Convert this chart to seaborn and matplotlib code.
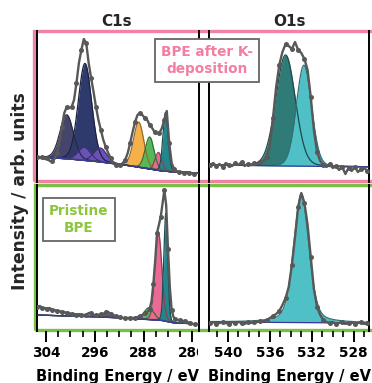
import numpy as np
import pandas as pd
import matplotlib
matplotlib.use("Agg")
import matplotlib.pyplot as plt
import seaborn as sns
from matplotlib.patches import Rectangle
from matplotlib.transforms import Bbox, TransformedBbox
from matplotlib.ticker import MultipleLocator
import matplotlib.colors as mcolors

sns.set_theme(style="white")
plt.rcParams["font.family"] = ["DejaVu Sans"]
plt.rcParams["font.weight"] = "bold"

# ---------------- data ----------------
# C1s, BPE after K-deposition (measured)
c1s_k_ev = [305.4, 305.0, 304.6, 304.2, 303.8, 303.4, 303.0, 302.6, 302.2, 301.8, 301.4, 301.0,
            300.6, 300.2, 299.8, 299.4, 299.0, 298.6, 298.2, 297.8, 297.4, 297.0, 296.6, 296.2,
            295.8, 295.4, 295.0, 294.6, 294.2, 293.8, 293.4, 293.0, 292.6, 292.2, 291.8, 291.4,
            291.0, 290.6, 290.2, 289.8, 289.4, 289.0, 288.6, 288.2, 287.8, 287.4, 287.0, 286.6,
            286.2, 285.8, 285.4, 285.0, 284.6, 284.2, 283.8, 283.4, 283.0, 282.6, 282.2, 281.8,
            281.4, 281.0, 280.6, 280.2, 279.8, 279.4]
c1s_k_int = [23, 22, 23, 21, 22, 19, 19, 21, 27, 37, 53, 67,
             73, 72, 73, 80, 97, 117, 130, 141, 137, 117, 102, 88,
             73, 60, 50, 40, 33, 27, 22, 17, 15, 14, 15, 17,
             20, 27, 37, 48, 58, 65, 67, 65, 62, 60, 55, 52,
             48, 47, 47, 52, 60, 69, 37, 17, 11, 9, 8, 8,
             7, 8, 7, 7, 6, 7]
# fit components (center eV, height, FWHM)
c1s_k_center = [300.6, 297.6, 297.7, 295.1, 288.8, 287.0, 285.55, 284.4]
c1s_k_height = [44, 97, 13, 14, 45, 32, 18, 59]
c1s_k_fwhm = [2.6, 2.6, 2.5, 2.5, 2.0, 1.7, 1.3, 1.0]
c1s_k_bg_ev = [305.6, 300.0, 295.0, 290.0, 285.0, 283.0, 279.0]
c1s_k_bg_int = [23, 21, 18, 14, 9, 8, 7]

# O1s, BPE after K-deposition
o1s_k_ev = [541.7, 541.4, 541.1, 540.8, 540.5, 540.2, 539.9, 539.6, 539.3, 539.0, 538.7, 538.4,
            538.1, 537.8, 537.5, 537.2, 536.9, 536.6, 536.3, 536.0, 535.7, 535.4, 535.1, 534.8,
            534.5, 534.2, 533.9, 533.6, 533.3, 533.0, 532.7, 532.4, 532.1, 531.8, 531.5, 531.2,
            530.9, 530.6, 530.3, 530.0, 529.7, 529.4, 529.1, 528.8, 528.5, 528.2, 527.9, 527.6,
            527.3, 527.0, 526.7]
o1s_k_int = [15, 17, 14, 16, 13, 17, 15, 14, 17, 15, 18, 14,
             16, 15, 17, 16, 18, 19, 23, 35, 62, 93, 115, 128,
             136, 134, 131, 138, 130, 127, 121, 110, 83, 50, 28, 19,
             15, 13, 16, 12, 14, 10, 13, 6, 12, 9, 13, 8,
             11, 12, 9]
o1s_k_center = [534.5, 532.75]
o1s_k_height = [111, 101]
o1s_k_fwhm = [2.2, 1.7]
o1s_k_bg_ev = [541.8, 526.5]
o1s_k_bg_int = [15, 13]

# C1s, pristine BPE
c1s_p_ev = [305.4, 305.0, 304.6, 304.2, 303.8, 303.4, 303.0, 302.6, 302.2, 301.8, 301.4, 301.0,
            300.6, 300.2, 299.8, 299.4, 299.0, 298.6, 298.2, 297.8, 297.4, 297.0, 296.6, 296.2,
            295.8, 295.4, 295.0, 294.6, 294.2, 293.8, 293.4, 293.0, 292.6, 292.2, 291.8, 291.4,
            291.0, 290.6, 290.2, 289.8, 289.4, 289.0, 288.6, 288.2, 287.8, 287.4, 287.0, 286.7,
            286.4, 286.1, 285.8, 285.5, 285.2, 284.9, 284.6, 284.3, 284.0, 283.7, 283.4, 283.1,
            282.8, 282.4, 282.0, 281.6, 281.2, 280.8, 280.4, 280.0, 279.6, 279.3]
c1s_p_int = [22, 23, 21, 21, 20, 21, 19, 19, 18, 18, 17, 17,
             16, 16, 15, 15, 14, 15, 14, 14, 14, 16, 16, 14,
             14, 14, 15, 15, 17, 17, 15, 14, 13, 12, 12, 11,
             11, 11, 11, 11, 11, 12, 13, 14, 16, 17, 20, 28,
             45, 68, 96, 104, 112, 125, 139, 124, 80, 42, 19, 12,
             10, 9, 9, 8, 8, 7, 6, 5, 5, 5]
c1s_p_center = [294.5, 287.1, 285.55, 284.35]
c1s_p_height = [3, 12, 87, 108]
c1s_p_fwhm = [3.0, 1.9, 1.3, 0.75]
c1s_p_bg_ev = [305.6, 295.0, 290.0, 285.0, 283.0, 279.0]
c1s_p_bg_int = [14, 12, 10.5, 8.5, 6, 5]

# O1s, pristine BPE
o1s_p_ev = [541.7, 541.4, 541.1, 540.8, 540.5, 540.2, 539.9, 539.6, 539.3, 539.0, 538.7, 538.4,
            538.1, 537.8, 537.5, 537.2, 536.9, 536.6, 536.3, 536.0, 535.7, 535.4, 535.1, 534.8,
            534.5, 534.2, 533.9, 533.6, 533.3, 533.0, 532.7, 532.4, 532.1, 531.8, 531.5, 531.2,
            530.9, 530.6, 530.3, 530.0, 529.7, 529.4, 529.1, 528.8, 528.5, 528.2, 527.9, 527.6,
            527.3, 527.0, 526.7]
o1s_p_int = [6, 7, 5, 6, 7, 6, 5, 7, 6, 7, 6, 5,
             7, 6, 7, 7, 8, 8, 9, 11, 13, 15, 18, 24,
             31, 42, 64, 92, 122, 136, 126, 104, 72, 40, 22, 14,
             9, 7, 6, 7, 5, 6, 7, 5, 6, 7, 5, 6,
             7, 5, 6]
o1s_p_center = [533.0]
o1s_p_height = [129]
o1s_p_fwhm = [1.7]
o1s_p_bg_ev = [541.8, 526.5]
o1s_p_bg_int = [7, 6]

c1s_ticks = [304, 296, 288, 280]
o1s_ticks = [540, 536, 532, 528]

# ---------------- styles ----------------
c1s_k_colors = ["#45446c", "#2e3a6c", "#6b52b8", "#6b52b8", "#f5b04a", "#55b95a", "#ea6a93", "#24858c"]
o1s_k_colors = ["#2f7b78", "#4fc0c6"]
c1s_p_colors = ["#6b52b8", "#55b95a", "#ea6a93", "#24858c"]
o1s_p_colors = ["#4fc0c6"]
DATA_COLOR = "#585858"
PINK = "#ef83a5"
GREEN = "#78bf45"

W, H = 372.0, 383.0
fig = plt.figure(figsize=(W / 100, H / 100), dpi=100)


def rect(x0, y0, x1, y1):
    return [x0 / W, 1 - y1 / H, (x1 - x0) / W, (y1 - y0) / H]


def darker(c, f=0.6):
    r, g, b = mcolors.to_rgb(c)
    return (r * f, g * f, b * f)


def pvoigt(x, c, h, w, eta):
    g = np.exp(-4 * np.log(2) * ((x - c) / w) ** 2)
    l = 1.0 / (1 + 4 * ((x - c) / w) ** 2)
    return h * ((1 - eta) * g + eta * l)


def panel(ax, ev, inten, centers, heights, fwhms, bg_ev, bg_int, colors, xlim, ylim, eta):
    grid = np.linspace(xlim[1], xlim[0], 600)
    bg = np.interp(grid, bg_ev[::-1], bg_int[::-1])
    for c, h, w, col in zip(centers, heights, fwhms, colors):
        comp = pvoigt(grid, c, h, w, eta)
        ax.fill_between(grid, bg, bg + comp, color=col, lw=0, zorder=2)
        ax.plot(grid, bg + comp, color=darker(col), lw=0.9, zorder=2.5)
    ax.plot(grid, bg, color="#3b3a9a", lw=0.9, zorder=2.6)
    df = pd.DataFrame({"ev": ev, "intensity": inten})
    sns.lineplot(data=df, x="ev", y="intensity", ax=ax, color=DATA_COLOR, lw=1.7,
                 marker="o", markersize=3.6, markeredgewidth=0, markevery=2,
                 sort=False, zorder=3)
    ax.set_xlim(xlim)
    ax.set_ylim(ylim)
    ax.set_facecolor("none")
    ax.set_xlabel("")
    ax.set_ylabel("")
    ax.set_yticks([])
    for s in ["top", "bottom"]:
        ax.spines[s].set_visible(False)
    for s in ["left", "right"]:
        ax.spines[s].set_color("black")
        ax.spines[s].set_linewidth(1.4)


xl_c = (305.55, 279.0)
xl_o = (541.8, 526.5)
cols_x = [(36.5, 198.5), (209.0, 369.5)]
rows_y = [(31.5, 182.0), (184.5, 330.5)]
yl_top = (180 - 182.0, 180 - 31.5)
yl_bot = (329 - 330.5, 329 - 184.5)

ax1 = fig.add_axes(rect(cols_x[0][0], rows_y[0][0], cols_x[0][1], rows_y[0][1]))
ax2 = fig.add_axes(rect(cols_x[1][0], rows_y[0][0], cols_x[1][1], rows_y[0][1]))
ax3 = fig.add_axes(rect(cols_x[0][0], rows_y[1][0], cols_x[0][1], rows_y[1][1]))
ax4 = fig.add_axes(rect(cols_x[1][0], rows_y[1][0], cols_x[1][1], rows_y[1][1]))

panel(ax1, c1s_k_ev, c1s_k_int, c1s_k_center, c1s_k_height, c1s_k_fwhm, c1s_k_bg_ev, c1s_k_bg_int,
      c1s_k_colors, xl_c, yl_top, 0.1)
panel(ax2, o1s_k_ev, o1s_k_int, o1s_k_center, o1s_k_height, o1s_k_fwhm, o1s_k_bg_ev, o1s_k_bg_int,
      o1s_k_colors, xl_o, yl_top, 0.1)
panel(ax3, c1s_p_ev, c1s_p_int, c1s_p_center, c1s_p_height, c1s_p_fwhm, c1s_p_bg_ev, c1s_p_bg_int,
      c1s_p_colors, xl_c, yl_bot, 0.1)
panel(ax4, o1s_p_ev, o1s_p_int, o1s_p_center, o1s_p_height, o1s_p_fwhm, o1s_p_bg_ev, o1s_p_bg_int,
      o1s_p_colors, xl_o, yl_bot, 0.35)

for ax in (ax1, ax2):
    ax.set_xticks([])

for ax, ticks, minor in ((ax3, c1s_ticks, 2), (ax4, o1s_ticks, 1)):
    ax.set_xticks(ticks)
    ax.set_xticklabels([str(t) for t in ticks])
    ax.xaxis.set_minor_locator(MultipleLocator(minor))
    ax.tick_params(axis="x", which="major", bottom=True, direction="out", length=8, width=1.4,
                   color="black", labelsize=9.8, pad=3.5, labelcolor="black")
    ax.tick_params(axis="x", which="minor", bottom=True, direction="out", length=4.5, width=1.2,
                   color="black")
    for lbl in ax.get_xticklabels():
        lbl.set_fontweight("bold")
    ax.set_xlabel("Binding Energy / eV", fontsize=10.5, fontweight="bold", labelpad=6.5, color="black")

# clip the left-panel tick labels where the right panel begins
clip = TransformedBbox(Bbox([[0, 0], [197.5 / W, 1]]), fig.transFigure)
for lbl in ax3.get_xticklabels():
    lbl.set_clip_box(clip)
    lbl.set_clip_on(True)

# coloured frames around the rows
fig.add_artist(Rectangle((33.8 / W, 1 - 181.0 / H), (380 - 33.8) / W, (181.0 - 31.3) / H,
                         transform=fig.transFigure, fill=False, ec=PINK, lw=2.4, zorder=-1))
fig.add_artist(Rectangle((34.5 / W, 1 - 329.8 / H), (380 - 34.5) / W, (329.8 - 184.6) / H,
                         transform=fig.transFigure, fill=False, ec=GREEN, lw=2.4, zorder=-1))

fig.text(117 / W, 1 - 21 / H, "C1s", ha="center", va="center", fontsize=11, fontweight="bold")
fig.text(290 / W, 1 - 21 / H, "O1s", ha="center", va="center", fontsize=11, fontweight="bold")
fig.text(20 / W, 1 - 191 / H, "Intensity / arb. units", rotation=90, ha="center", va="center",
         fontsize=12.3, fontweight="bold")

fig.text(207 / W, 1 - 60.5 / H, "BPE after K-\ndeposition", ha="center", va="center",
         multialignment="center", fontsize=9.8, fontweight="bold", color="#f27fa1", zorder=10,
         linespacing=1.25,
         bbox=dict(boxstyle="square,pad=0.45", fc="white", ec="#666666", lw=1.3))
fig.text(79 / W, 1 - 219.5 / H, "Pristine\nBPE", ha="center", va="center",
         multialignment="center", fontsize=9.8, fontweight="bold", color="#8cc63f", zorder=10,
         linespacing=1.25,
         bbox=dict(boxstyle="square,pad=0.45", fc="white", ec="#666666", lw=1.3))

fig.savefig("out.png", dpi=100)
